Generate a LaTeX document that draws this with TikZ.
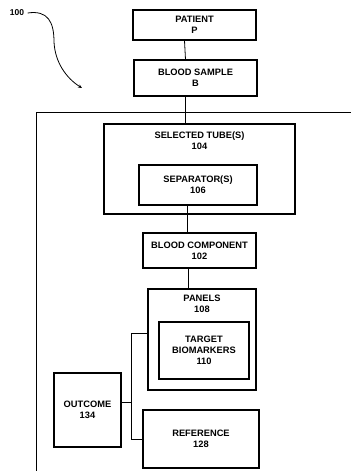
\documentclass[tikz,border=0pt]{standalone}
\usepackage{fontspec}
\setmainfont{Liberation Sans}
\usetikzlibrary{arrows.meta}
\begin{document}
\begin{tikzpicture}[x=1pt,y=-1pt,
  every node/.style={font=\fontsize{9.3}{11}\selectfont\bfseries, align=center},
  blk/.style={draw, line width=1.1pt, inner sep=0pt},
  conn/.style={line width=0.8pt}]
\useasboundingbox (0,0) rectangle (351,471);
% outer frame (partly shown)
\draw[line width=1pt] (36,471) -- (36,112) -- (351,112);
% boxes
\node[blk, minimum width=123, minimum height=30] (patient) at (194.5,25) {PATIENT\\P};
\node[blk, minimum width=123, minimum height=36] (bs) at (195.5,78) {BLOOD SAMPLE\\B};
\node[blk, minimum width=191, minimum height=90] (tube) at (199.5,169) {};
\node (tubelbl) at (199.5,141) {SELECTED TUBE(S)\\104};
\node[blk, minimum width=118, minimum height=40] (sep) at (198,185) {SEPARATOR(S)\\106};
\node[blk, minimum width=113, minimum height=35] (bc) at (199.5,250.5) {BLOOD COMPONENT\\102};
\node[blk, minimum width=108, minimum height=101] (panels) at (202,339.5) {};
\node (panelslbl) at (202,304) {PANELS\\108};
\node[blk, minimum width=90, minimum height=57] (target) at (204,350.5) {TARGET\\BIOMARKERS\\110};
\node[blk, minimum width=67, minimum height=74] (outcome) at (87.5,410) {OUTCOME\\134};
\node[blk, minimum width=116, minimum height=58] (ref) at (201,439) {REFERENCE\\128};
% connectors
\draw[conn] ([xshift=-10pt]patient.south) -- ([xshift=-10pt]bs.north);
\draw[conn] ([xshift=-10.5pt]bs.south) -- ([xshift=-14.5pt]tube.north);
\draw[conn] ([xshift=-11pt]sep.south) -- ([xshift=-12.5pt]bc.north);
\draw[conn] ([xshift=-11.5pt]bc.south) -- ([xshift=-14pt]panels.north);
\coordinate (j) at (132,402);
\draw[conn] ([yshift=6.5pt]panels.west) -- ++(-16,0) |- (ref.west);
\draw[conn] ([yshift=8pt]outcome.east) -- (j);
% reference numeral
\node[font=\fontsize{8.5}{10}\selectfont\bfseries] (n100) at (17,13) {100};
\draw[conn, -{Stealth[length=4pt,width=3.5pt]}] (n100.east) .. controls (48,10) and (54,22) .. (54,42) .. controls (55,62) and (66,78) .. (82,88);
\end{tikzpicture}
\end{document}
